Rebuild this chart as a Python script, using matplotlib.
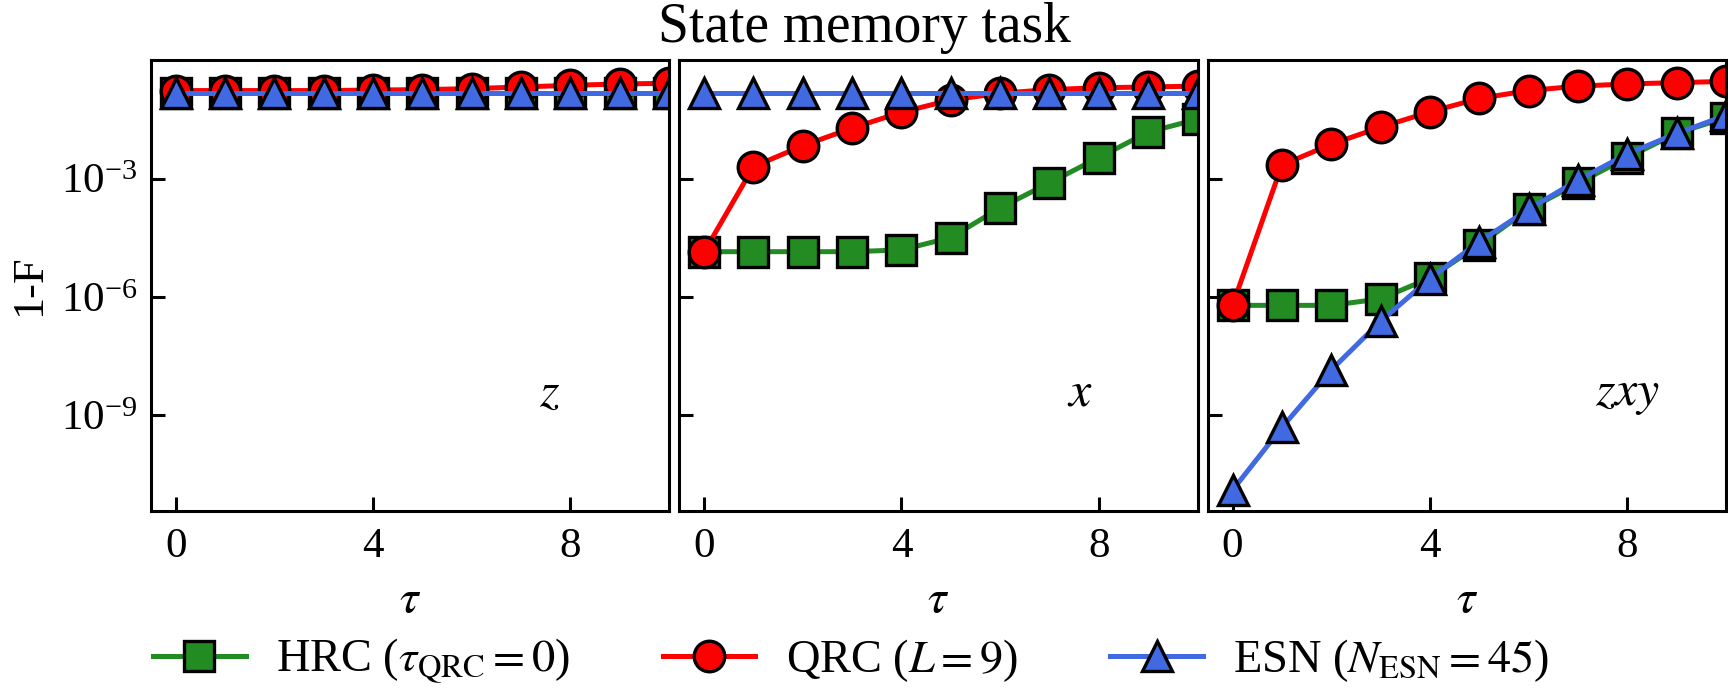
import matplotlib

matplotlib.use("Agg")
import matplotlib.pyplot as plt
import numpy as np

TAU = np.arange(11)
PANELS = ("z", "x", "zxy")

# 1-F values, one list per panel
HRC = {
    "z": [0.15, 0.15, 0.15, 0.15, 0.15, 0.15, 0.15, 0.15, 0.15, 0.15, 0.15],
    "x": [1.4e-5, 1.4e-5, 1.4e-5, 1.4e-5, 1.55e-5, 3.2e-5, 1.8e-4, 7.8e-4, 3.4e-3, 1.5e-2, 3.2e-2],
    "zxy": [6.1e-7, 6.1e-7, 6.1e-7, 8.9e-7, 3.0e-6, 2.1e-5, 1.66e-4, 7.6e-4, 3.4e-3, 1.4e-2, 3.5e-2],
}
QRC = {
    "z": [0.17, 0.17, 0.17, 0.17, 0.175, 0.18, 0.19, 0.21, 0.23, 0.25, 0.26],
    "x": [1.37e-5, 2.0e-3, 6.8e-3, 1.9e-2, 4.8e-2, 9.8e-2, 0.145, 0.18, 0.2, 0.21, 0.22],
    "zxy": [6.1e-7, 2.2e-3, 7.4e-3, 2.0e-2, 4.9e-2, 0.107, 0.17, 0.22, 0.25, 0.27, 0.29],
}
ESN = {
    "z": [0.148] * 11,
    "x": [0.148] * 11,
    "zxy": [1.26e-11, 4.9e-10, 1.4e-8, 2.4e-7, 2.9e-6, 2.5e-5, 1.66e-4, 9.1e-4, 4.2e-3, 1.39e-2, 4.0e-2],
}

SERIES = (
    (HRC, "s", "#228B22", r"HRC ($\tau_{\rm QRC}=0$)"),
    (QRC, "o", "#FF0000", r"QRC ($L=9$)"),
    (ESN, "^", "#4169E1", r"ESN ($N_{\rm ESN}=45$)"),
)

plt.rcParams.update(
    {
        "font.family": "serif",
        "font.serif": ["Liberation Serif", "DejaVu Serif"],
        "mathtext.fontset": "stix",
        "font.size": 15.5,
        "axes.linewidth": 1.1,
        "xtick.direction": "in",
        "ytick.direction": "in",
        "xtick.major.size": 5,
        "ytick.major.size": 5,
        "xtick.major.width": 1.1,
        "ytick.major.width": 1.1,
        "xtick.major.pad": 6,
        "ytick.major.pad": 5,
        "xtick.labelsize": 15.5,
        "ytick.labelsize": 15.5,
    }
)

fig, axes = plt.subplots(1, 3, figsize=(8.64, 3.46), dpi=200, sharey=True)
fig.subplots_adjust(left=0.0874, right=0.9988, top=0.913, bottom=0.262, wspace=0.02)

for ax, panel in zip(axes, PANELS):
    for data, marker, color, label in SERIES:
        ax.plot(
            TAU,
            data[panel],
            marker=marker,
            color=color,
            markerfacecolor=color,
            markeredgecolor="black",
            markeredgewidth=1.2,
            markersize=11,
            linewidth=1.8,
            label=label,
        )
    ax.set_yscale("log")
    ax.set_ylim(3.8e-12, 1.0)
    ax.set_xlim(-0.5, 10)
    ax.set_xticks([0, 4, 8])
    ax.set_yticks([1e-9, 1e-6, 1e-3])
    ax.yaxis.set_minor_locator(matplotlib.ticker.NullLocator())
    ax.set_xlabel(r"$\tau$", fontsize=17, labelpad=5)
    ax.text(0.748, 0.26, rf"${panel}$", transform=ax.transAxes, ha="left", va="center", fontsize=18)

axes[0].set_ylabel("1-F", fontsize=16)
fig.suptitle("State memory task", y=0.997, fontsize=20)

handles, labels = axes[0].get_legend_handles_labels()
fig.legend(
    handles,
    labels,
    loc="lower center",
    bbox_to_anchor=(0.4925, -0.052),
    ncol=3,
    frameon=False,
    fontsize=16.7,
    columnspacing=2.0,
    handlelength=2.0,
    handletextpad=0.65,
)

fig.savefig("out.png", dpi=200)
